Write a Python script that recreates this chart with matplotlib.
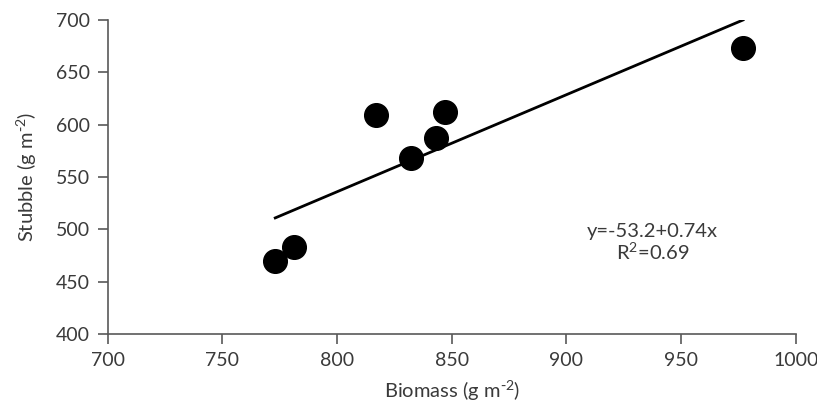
import matplotlib
matplotlib.use("Agg")
import matplotlib.pyplot as plt
from matplotlib import font_manager

# data
biomass = [773, 781, 817, 832, 843, 847, 977]
stubble = [470, 483, 609, 568, 587, 612, 673]
fit_x = [773, 977]
fit_y = [511, 700]
x_ticks = [700, 750, 800, 850, 900, 950, 1000]
y_ticks = [400, 450, 500, 550, 600, 650, 700]
equation = "y=-53.2+0.74x\nR$^2$=0.69"

names = {f.name for f in font_manager.fontManager.ttflist}
family = "Lato" if "Lato" in names else "DejaVu Sans"
plt.rcParams["font.family"] = [family, "DejaVu Sans"]
plt.rcParams["mathtext.default"] = "regular"
plt.rcParams["axes.unicode_minus"] = False

axis_col = "#595959"
text_col = "#3a3a3a"

fig = plt.figure(figsize=(8.17, 4.08), dpi=100)
ax = fig.add_axes([0.132, 0.181, 0.842, 0.770])

ax.plot(fit_x, fit_y, color="black", lw=2, zorder=2)
ax.scatter(biomass, stubble, s=290, color="black", zorder=3)

ax.set_xlim(700, 1000)
ax.set_ylim(400, 700)
ax.set_xticks(x_ticks)
ax.set_yticks(y_ticks)

for side in ["top", "right"]:
    ax.spines[side].set_visible(False)
for side in ["left", "bottom"]:
    ax.spines[side].set_color(axis_col)
    ax.spines[side].set_linewidth(1.2)
ax.tick_params(axis="both", direction="out", length=7, width=1.2, color=axis_col,
               labelsize=14, labelcolor=text_col, pad=6)

ax.set_xlabel("Biomass (g m$^{\\text{-}2}$)", fontsize=14.5, color=text_col, labelpad=7)
ax.set_ylabel("Stubble (g m$^{\\text{-}2}$)", fontsize=14.5, color=text_col, labelpad=12)

ax.text(0.792, 0.29, equation, transform=ax.transAxes, ha="center", va="center",
        fontsize=14.5, color=text_col, linespacing=1.1)

fig.savefig("out.png", dpi=100)
